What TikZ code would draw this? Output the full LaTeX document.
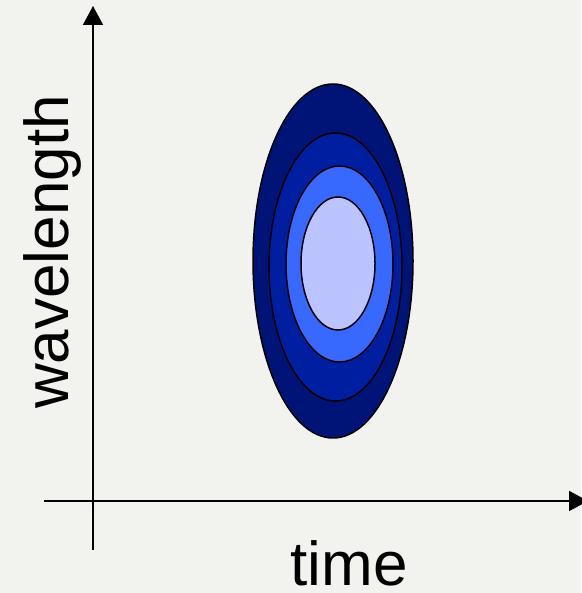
\documentclass[tikz,border=0pt]{standalone}
\usepackage{fontspec}
\setmainfont{Liberation Sans}
\usetikzlibrary{arrows.meta, shapes.geometric}
\definecolor{bgpaper}{RGB}{242,243,239}
\definecolor{blueA}{RGB}{0,20,120}
\definecolor{blueB}{RGB}{0,30,160}
\definecolor{blueC}{RGB}{55,105,255}
\definecolor{blueD}{RGB}{187,196,255}

\begin{document}
\begin{tikzpicture}[x=1pt, y=1pt, >={Triangle[length=19pt, width=20pt]},
          axis/.style ={draw=black, line width=1.8pt},
          ring/.style ={ellipse, draw=black, line width=1.5pt, inner sep=0pt},
          lbl/.style  ={font=\fontsize{62}{62}\selectfont, inner sep=0pt}]
        \fill[bgpaper] (0,0) rectangle (581,593);
        \useasboundingbox (0,0) rectangle (581,593);
        % axes
        \coordinate (xs) at (44,92);
        \coordinate (xe) at (588,92);
        \coordinate (ys) at (93,43);
        \coordinate (ye) at (93,587);
        \draw[axis, ->] (xs) -- (xe);
        \draw[axis, ->] (ys) -- (ye);
        % contours
        \node[ring, fill=blueA, minimum width=160pt, minimum height=354pt] (r1) at (333,332) {};
        \node[ring, fill=blueB, minimum width=133pt, minimum height=268pt] (r2) at (335.5,326) {};
        \node[ring, fill=blueC, minimum width=107pt, minimum height=196pt] (r3) at (339.5,329) {};
        \node[ring, fill=blueD, minimum width=74pt, minimum height=133pt] (r4) at (338,329.5) {};
        % labels
        \node[lbl, rotate=90, anchor=base] (wl) at (68,341) {wavelength};
        \node[lbl, anchor=base] (tm) at (349,8) {time};
      \end{tikzpicture}
\end{document}
